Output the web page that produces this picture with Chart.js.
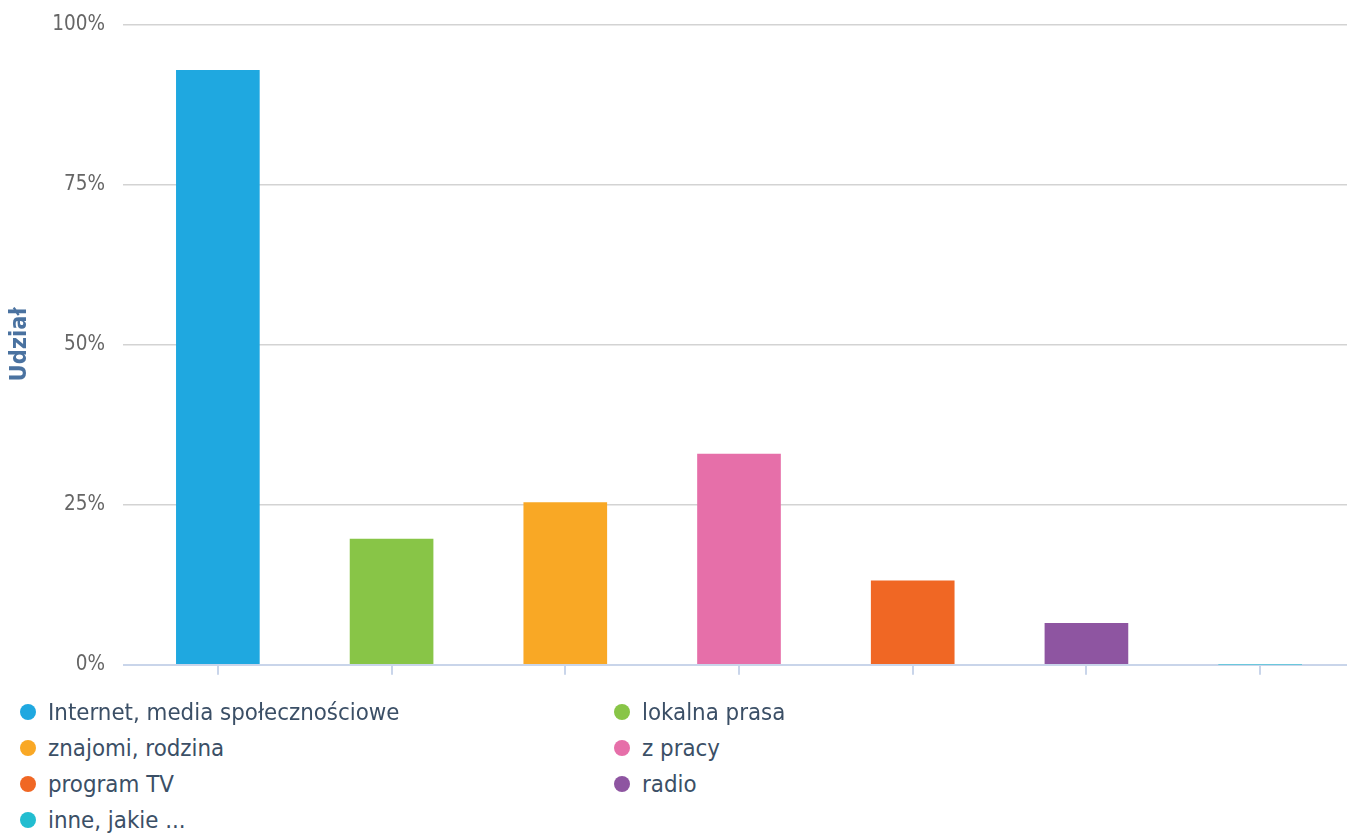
<!DOCTYPE html>
<html>
<head>
<meta charset="utf-8">
<script src="https://cdn.jsdelivr.net/npm/chart.js@4.4.1/dist/chart.umd.min.js"></script>
<style>
  html, body { margin: 0; padding: 0; background: #fff; }
  #wrap { position: relative; width: 1351px; height: 833px; overflow: hidden; }
  #chartBox { position: absolute; left: 0; top: -6px; width: 1351px; height: 701px; }
  #legend { position: absolute; left: 0; top: 694px; width: 1351px; font-family: "DejaVu Sans Condensed", "DejaVu Sans", sans-serif; font-size: 23.8px; color: #3b4f66; }
  .li { position: absolute; height: 36px; line-height: 36px; white-space: nowrap; }
  .dot { position: absolute; top: 10px; width: 16px; height: 16px; border-radius: 50%; }
  .lt { position: absolute; left: 28px; top: 0; }
</style>
</head>
<body>
<div id="wrap">
  <div id="chartBox"><canvas id="c"></canvas></div>
  <div id="legend"></div>
</div>
<script>
const categories = ["Internet, media społecznościowe", "lokalna prasa", "znajomi, rodzina", "z pracy", "program TV", "radio", "inne, jakie ..."];
const shares = [92.8, 19.6, 25.3, 32.9, 13.1, 6.45, 0];
const colors = ["#1fa8e0", "#88c547", "#f9a825", "#e66fa9", "#f06724", "#8e55a1", "#22bdd0"];
const yTicks = [0, 25, 50, 75, 100];
const yTitle = "Udział";

const FONT = "'DejaVu Sans Condensed', 'DejaVu Sans', sans-serif";

new Chart(document.getElementById('c'), {
  type: 'bar',
  data: {
    labels: categories,
    datasets: [{
      data: shares,
      backgroundColor: colors,
      borderWidth: 0,
      barThickness: 83
    }]
  },
  options: {
    responsive: true,
    maintainAspectRatio: false,
    animation: false,
    layout: { padding: { top: 15, right: 4, left: 0, bottom: 6 } },
    plugins: { legend: { display: false }, tooltip: { enabled: false } },
    scales: {
      x: {
        offset: true,
        grid: { offset: false, drawOnChartArea: false, drawTicks: true, tickLength: 10, color: '#c9d5ea', lineWidth: 2 },
        border: { display: false },
        ticks: { display: false }
      },
      y: {
        min: 0, max: 100,
        afterBuildTicks: (s) => { s.ticks = yTicks.map(v => ({ value: v })); },
        afterFit: (s) => { s.width = 131; },
        grid: {
          color: (ctx) => ctx.tick && ctx.tick.value === 0 ? '#c9d5ea' : '#d3d3d3',
          lineWidth: (ctx) => ctx.tick && ctx.tick.value === 0 ? 2 : 1.5,
          tickLength: 8,
          drawTicks: true
        },
        border: { display: false },
        ticks: {
          padding: 18,
          color: '#666666',
          font: { family: FONT, size: 20.5 },
          callback: (v) => v + '%'
        },
        title: {
          display: true,
          text: yTitle,
          color: '#4a72a0',
          font: { family: FONT, size: 23.5, weight: 'bold' },
          padding: { top: 6, bottom: 0 }
        }
      }
    }
  }
});

const legend = document.getElementById('legend');
categories.forEach((name, i) => {
  const col = i % 2, row = Math.floor(i / 2);
  const d = document.createElement('div');
  d.className = 'li';
  d.style.left = (col === 0 ? 20 : 614) + 'px';
  d.style.top = (row * 36) + 'px';
  d.innerHTML = '<span class="dot" style="background:' + colors[i] + '"></span><span class="lt"></span>';
  d.querySelector('.lt').textContent = name;
  legend.appendChild(d);
});
</script>
</body>
</html>
